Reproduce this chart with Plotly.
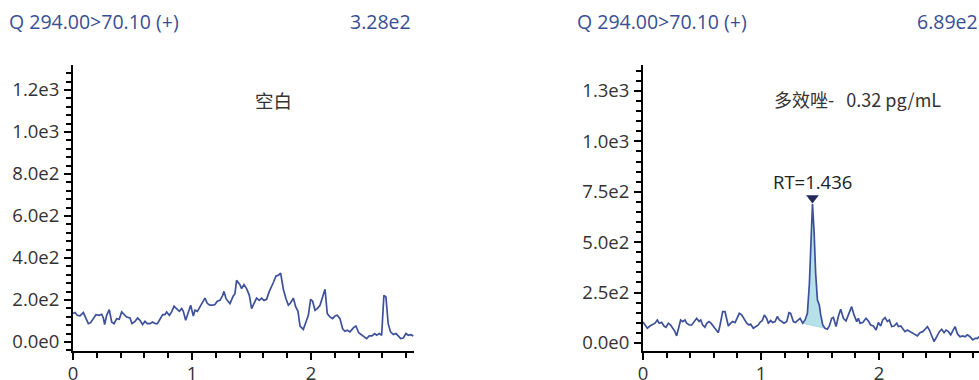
import plotly.graph_objects as go

W, H = 979, 380
FONT = "Open Sans, Noto Sans CJK SC, sans-serif"
CJK_FONT = "Noto Sans CJK SC, Open Sans, sans-serif"

# ---- chromatogram data (retention time in min, intensity in counts) ----
left_time = [
    0.000, 0.017, 0.036, 0.059, 0.087, 0.109, 0.129, 0.148, 0.171, 0.193,
    0.221, 0.241, 0.255, 0.266, 0.283, 0.305, 0.325, 0.345, 0.367, 0.389,
    0.409, 0.429, 0.451, 0.479, 0.496, 0.521, 0.543, 0.563, 0.585, 0.605,
    0.625, 0.647, 0.669, 0.692, 0.709, 0.731, 0.754, 0.773, 0.787, 0.810,
    0.829, 0.849, 0.871, 0.894, 0.913, 0.927, 0.947, 0.969, 0.989, 1.011,
    1.025, 1.045, 1.067, 1.090, 1.109, 1.129, 1.151, 1.174, 1.193, 1.213,
    1.235, 1.258, 1.269, 1.286, 1.305, 1.319, 1.347, 1.361, 1.375, 1.390,
    1.403, 1.417, 1.437, 1.459, 1.482, 1.501, 1.521, 1.543, 1.566, 1.585,
    1.605, 1.627, 1.650, 1.669, 1.683, 1.706, 1.725, 1.745, 1.768, 1.790,
    1.810, 1.829, 1.852, 1.872, 1.891, 1.908, 1.936, 1.958, 1.978, 1.997,
    2.014, 2.034, 2.053, 2.076, 2.098, 2.118, 2.137, 2.160, 2.182, 2.202,
    2.221, 2.244, 2.266, 2.286, 2.305, 2.328, 2.356, 2.378, 2.401, 2.426,
    2.445, 2.468, 2.490, 2.513, 2.535, 2.552, 2.574, 2.594, 2.613, 2.630,
    2.649, 2.669, 2.692, 2.714, 2.734, 2.754, 2.776, 2.798, 2.818, 2.838,
    2.860,
]
left_intensity = [
    136, 140, 127, 124, 140, 111, 87, 92, 111, 130,
    127, 132, 114, 83, 127, 154, 95, 87, 111, 108,
    143, 130, 119, 114, 87, 98, 114, 103, 83, 98,
    87, 87, 95, 87, 87, 108, 130, 130, 143, 127,
    143, 170, 159, 146, 159, 146, 103, 143, 175, 124,
    151, 146, 167, 194, 209, 183, 175, 175, 178, 194,
    198, 222, 241, 206, 190, 183, 219, 230, 294, 285,
    273, 254, 273, 254, 222, 159, 183, 209, 198, 209,
    198, 203, 241, 262, 282, 314, 317, 328, 251, 206,
    175, 187, 209, 167, 146, 76, 60, 95, 127, 203,
    194, 151, 159, 175, 214, 251, 135, 119, 111, 124,
    127, 111, 63, 51, 56, 48, 67, 76, 44, 35,
    24, 16, 29, 29, 40, 32, 40, 32, 222, 214,
    87, 48, 35, 40, 29, 16, 19, 40, 32, 35,
    29,
]

right_time = [
    0.000, 0.017, 0.037, 0.059, 0.082, 0.102, 0.121, 0.138, 0.158, 0.178,
    0.195, 0.215, 0.234, 0.251, 0.271, 0.285, 0.305, 0.319, 0.336, 0.356,
    0.370, 0.393, 0.412, 0.432, 0.455, 0.475, 0.489, 0.506, 0.525, 0.540,
    0.559, 0.576, 0.596, 0.619, 0.638, 0.653, 0.675, 0.695, 0.709, 0.723,
    0.743, 0.760, 0.780, 0.799, 0.816, 0.836, 0.856, 0.879, 0.898, 0.912,
    0.935, 0.955, 0.977, 0.992, 1.011, 1.028, 1.048, 1.062, 1.082, 1.099,
    1.119, 1.138, 1.155, 1.175, 1.195, 1.218, 1.237, 1.251, 1.274, 1.291,
    1.308, 1.325, 1.331, 1.353, 1.373, 1.393, 1.410, 1.424, 1.436, 1.449,
    1.463, 1.478, 1.494, 1.506, 1.523, 1.542, 1.562, 1.579, 1.599, 1.613,
    1.636, 1.655, 1.675, 1.698, 1.720, 1.740, 1.768, 1.788, 1.811, 1.825,
    1.839, 1.862, 1.890, 1.910, 1.929, 1.952, 1.975, 1.994, 2.014, 2.031,
    2.051, 2.071, 2.087, 2.107, 2.127, 2.150, 2.164, 2.184, 2.201, 2.220,
    2.240, 2.263, 2.285, 2.305, 2.325, 2.347, 2.370, 2.390, 2.410, 2.427,
    2.446, 2.466, 2.489, 2.511, 2.531, 2.551, 2.568, 2.588, 2.607, 2.630,
    2.644, 2.664, 2.686, 2.709, 2.729, 2.749, 2.771, 2.794, 2.814, 2.833,
    2.847,
]
right_intensity = [
    104, 89, 73, 84, 93, 98, 114, 98, 102, 84,
    78, 98, 89, 73, 56, 35, 81, 114, 106, 114,
    98, 89, 89, 106, 122, 106, 114, 89, 78, 98,
    106, 98, 81, 64, 51, 89, 155, 155, 114, 84,
    98, 106, 101, 122, 147, 139, 117, 98, 89, 93,
    73, 81, 89, 102, 111, 139, 122, 98, 111, 101,
    106, 131, 114, 106, 98, 106, 150, 147, 106, 101,
    111, 122, 122, 98, 114, 147, 296, 511, 689, 560,
    345, 213, 188, 139, 89, 73, 68, 84, 122, 126,
    81, 131, 167, 122, 109, 139, 180, 139, 106, 122,
    98, 101, 122, 109, 89, 84, 64, 101, 84, 114,
    126, 106, 114, 81, 84, 98, 81, 84, 73, 56,
    64, 56, 48, 45, 35, 51, 56, 68, 81, 64,
    35, 7, 31, 56, 68, 51, 64, 56, 40, 64,
    81, 45, 31, 35, 31, 40, 31, 15, 23, 23,
    31,
]

transition = "Q 294.00>70.10 (+)"
left_label = "空白"
right_label = "多效唑-\u00a0\u00a0\u00a00.32 pg/mL"

x_ticks = [0, 1, 2]
left_yticks = [0, 200, 400, 600, 800, 1000, 1200]
left_yticktext = ["0.0e0", "2.0e2", "4.0e2", "6.0e2", "8.0e2", "1.0e3", "1.2e3"]
right_yticks = [0, 250, 500, 750, 1000, 1250]
right_yticktext = ["0.0e0", "2.5e2", "5.0e2", "7.5e2", "1.0e3", "1.3e3"]

peak_start, peak_end = 1.353, 1.542   # integration window of the analyte peak

# ---- styling ----
LINE_COLOR = "#3d519b"
TITLE_COLOR = "#3a4e96"
FILL_COLOR = "#b6e0ea"
MARK_COLOR = "#222a5c"
TEXT_COLOR = "#333333"

# plot area placement in pixels
LEFT_X0, LEFT_X1 = 73, 414
RIGHT_X0, RIGHT_X1 = 643, 979
PLOT_TOP, PLOT_BOTTOM = 65, 351

left_xrange = [0, 2.866]
right_xrange = [0, 2.847]
left_yrange = [-43, 1319]
right_yrange = [-40, 1379]


def sci(v):
    mant, exp = f"{v:.2e}".split("e")
    return f"{mant}e{int(exp)}"


def px(xp):
    return xp / W


def py(yp):
    return 1 - yp / H


fig = go.Figure()

fig.add_trace(go.Scatter(
    x=left_time, y=left_intensity, mode="lines",
    line=dict(color=LINE_COLOR, width=1.7), xaxis="x", yaxis="y",
    hoverinfo="skip",
))

# shaded integrated area between the trace and the drop baseline
i0 = right_time.index(peak_start)
i1 = right_time.index(peak_end)
b0, b1 = right_intensity[i0], right_intensity[i1]
fill_x = right_time[i0:i1 + 1] + [peak_end, peak_start]
fill_y = right_intensity[i0:i1 + 1] + [b1, b0]
fig.add_trace(go.Scatter(
    x=fill_x, y=fill_y, mode="lines", fill="toself",
    fillcolor=FILL_COLOR, line=dict(width=0, color=FILL_COLOR),
    xaxis="x2", yaxis="y2", hoverinfo="skip",
))
fig.add_trace(go.Scatter(
    x=[peak_start, peak_end], y=[b0, b1], mode="lines",
    line=dict(color="#a9d8e4", width=1), xaxis="x2", yaxis="y2",
    hoverinfo="skip",
))

fig.add_trace(go.Scatter(
    x=right_time, y=right_intensity, mode="lines",
    line=dict(color=LINE_COLOR, width=1.7), xaxis="x2", yaxis="y2",
    hoverinfo="skip",
))

# apex marker
apex = max(range(len(right_intensity)), key=lambda i: right_intensity[i])
rt = right_time[apex]
peak_h = right_intensity[apex]
units_per_px = (right_yrange[1] - right_yrange[0]) / (PLOT_BOTTOM - PLOT_TOP)
fig.add_trace(go.Scatter(
    x=[rt], y=[peak_h + 6 * units_per_px], mode="markers",
    marker=dict(symbol="triangle-down", size=11, color=MARK_COLOR),
    xaxis="x2", yaxis="y2", hoverinfo="skip",
))


def axis_common():
    return dict(
        showline=True, linecolor="black", linewidth=2,
        ticks="outside", ticklen=7, tickwidth=2, tickcolor="black",
        showgrid=False, zeroline=False, fixedrange=True, automargin=False,
        tickfont=dict(family=FONT, size=18.5, color=TEXT_COLOR),
    )


ydom = [py(PLOT_BOTTOM), py(PLOT_TOP)]

fig.update_layout(
    width=W, height=H,
    margin=dict(l=0, r=0, t=0, b=0, autoexpand=False),
    paper_bgcolor="white", plot_bgcolor="white",
    showlegend=False,
    xaxis=dict(**axis_common(), domain=[px(LEFT_X0), px(LEFT_X1)],
               range=left_xrange, tickvals=x_ticks, anchor="y",
               ticklabelstandoff=-2,
               minor=dict(ticks="outside", ticklen=5, tickwidth=2,
                          tickcolor="black", dtick=0.2, tick0=0)),
    yaxis=dict(**axis_common(), domain=ydom, range=left_yrange,
               tickvals=left_yticks, ticktext=left_yticktext, anchor="x",
               ticklabelstandoff=1,
               minor=dict(ticks="outside", ticklen=5, tickwidth=2,
                          tickcolor="black", dtick=40, tick0=0)),
    xaxis2=dict(**axis_common(), domain=[px(RIGHT_X0), px(RIGHT_X1)],
                range=right_xrange, tickvals=x_ticks, anchor="y2",
                ticklabelstandoff=-2,
                minor=dict(ticks="outside", ticklen=5, tickwidth=2,
                           tickcolor="black", dtick=0.2, tick0=0)),
    yaxis2=dict(**axis_common(), domain=ydom, range=right_yrange,
                tickvals=right_yticks, ticktext=right_yticktext, anchor="x2",
                ticklabelstandoff=1,
                minor=dict(ticks="outside", ticklen=5, tickwidth=2,
                           tickcolor="black", dtick=50, tick0=0)),
)

annotations = [
    dict(text=transition, x=px(7), y=py(22), xanchor="left"),
    dict(text=sci(max(left_intensity)), x=px(413), y=py(22), xanchor="right"),
    dict(text=transition, x=px(575), y=py(22), xanchor="left"),
    dict(text=sci(max(right_intensity)), x=px(980), y=py(22), xanchor="right"),
]
for a in annotations:
    fig.add_annotation(xref="paper", yref="paper", yanchor="middle",
                       showarrow=False,
                       font=dict(family=FONT, size=19.5, color=TITLE_COLOR), **a)

fig.add_annotation(xref="paper", yref="paper", x=px(273), y=py(100),
                   text=left_label, showarrow=False, xanchor="center",
                   yanchor="middle",
                   font=dict(family=CJK_FONT, size=18.5, color=TEXT_COLOR))
fig.add_annotation(xref="paper", yref="paper", x=px(857), y=py(99),
                   text=right_label, showarrow=False, xanchor="center",
                   yanchor="middle",
                   font=dict(family=CJK_FONT, size=18, color=TEXT_COLOR))
fig.add_annotation(xref="x2", yref="y2", x=rt, y=peak_h, yshift=23,
                   text=f"RT={rt:.3f}", showarrow=False, xanchor="center",
                   yanchor="middle",
                   font=dict(family=FONT, size=18.5, color="#222222"))

fig.write_html("out.html")
